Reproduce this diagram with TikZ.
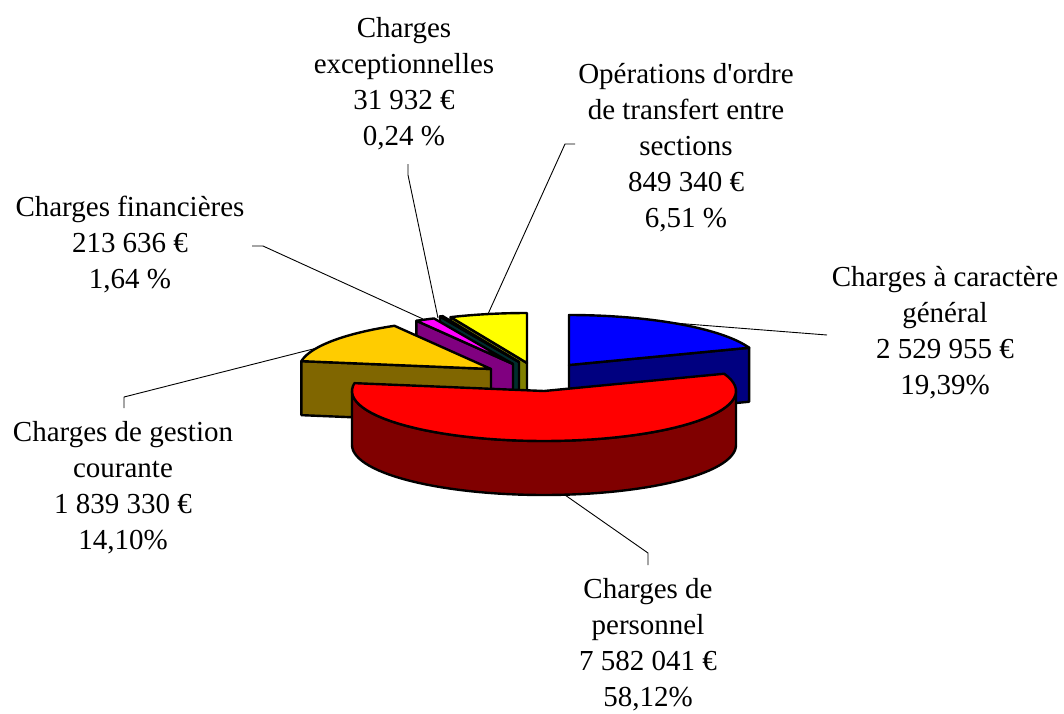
\documentclass[tikz,border=0pt]{standalone}
\usepackage{fontspec}
\setmainfont{Liberation Serif}
\usetikzlibrary{calc}

\definecolor{genTop}{RGB}{0,0,255}
\definecolor{genSide}{RGB}{0,0,128}
\definecolor{persTop}{RGB}{255,0,0}
\definecolor{persSide}{RGB}{128,0,0}
\definecolor{gestTop}{RGB}{255,204,0}
\definecolor{gestSide}{RGB}{128,102,0}
\definecolor{finTop}{RGB}{255,0,255}
\definecolor{finSide}{RGB}{128,0,128}
\definecolor{excTop}{RGB}{0,90,90}
\definecolor{excSide}{RGB}{0,45,45}
\definecolor{ordTop}{RGB}{255,255,0}
\definecolor{ordSide}{RGB}{128,128,0}

\newcommand*\pieRx{192}
\newcommand*\pieRy{50}
\newcommand*\pieH{54}
% top of a slice: apex x, apex y, start, end, colour
\newcommand*\slicetop[5]{\filldraw[fill=#5] (#1,#2) -- plot[domain=#3:#4,samples=60] ({#1+\pieRx*sin(\x)},{#2-\pieRy*cos(\x)}) -- cycle;}
% flat wall along one radius
\newcommand*\slicewall[4]{\filldraw[fill=#4] (#1,#2) -- ({#1+\pieRx*sin(#3)},{#2-\pieRy*cos(#3)}) -- ++(0,\pieH) -- ({#1},{#2+\pieH}) -- cycle;}
% curved front wall
\newcommand*\slicerim[5]{\filldraw[fill=#5] plot[domain=#3:#4,samples=60] ({#1+\pieRx*sin(\x)},{#2-\pieRy*cos(\x)}) -- plot[domain=#4:#3,samples=60] ({#1+\pieRx*sin(\x)},{#2+\pieH-\pieRy*cos(\x)}) -- cycle;}

\begin{document}
\begin{tikzpicture}[x=1pt,y=-1pt,
    line join=round,
    slice/.style={line width=2.4pt},
    leader/.style={line width=0.9pt},
    lbl/.style={align=center,anchor=base,inner sep=0pt,
      font=\fontsize{29}{36}\selectfont}]
        \useasboundingbox (0,0) rectangle (1064,713);

        % slices, back to front
        \begin{scope}[slice]
        \slicewall{527}{363}{336.57}{ordSide}
        \slicetop{527}{363}{336.57}{360}{ordTop}
        \slicewall{519}{362}{335.70}{excSide}
        \slicetop{519}{362}{335.70}{336.57}{excTop}
        \slicewall{513}{364}{329.80}{finSide}
        \slicetop{513}{364}{329.80}{335.70}{finTop}
        \slicewall{491}{369}{279.04}{gestSide}
        \slicetop{491}{369}{279.04}{329.80}{gestTop}
        \slicewall{569}{365}{69.80}{genSide}
        \slicetop{569}{365}{0}{69.80}{genTop}
        \slicerim{544}{391}{90}{270}{persSide}
        \slicetop{544}{391}{69.80}{279.04}{persTop}
        \end{scope}

        % labels, placed on the baseline of their last line
        \node[lbl] (Gen) at (945,394) {Charges à caractère\\général\\2 529 955 €\\19,39\%};
        \node[lbl] (Pers) at (648,706) {Charges de\\personnel\\7 582 041 €\\58,12\%};
        \node[lbl] (Gest) at (123,549) {Charges de gestion\\courante\\1 839 330 €\\14,10\%};
        \node[lbl] (Fin) at (130,288) {Charges financières\\213 636 €\\1,64 \%};
        \node[lbl] (Exc) at (404,145) {Charges\\exceptionnelles\\31 932 €\\0,24 \%};
        \node[lbl] (Ord) at (686,227) {Opérations d\textquotesingle ordre\\de transfert entre\\sections\\849 340 €\\6,51 \%};

        \coordinate (GenL) at (827,335);
        \coordinate (GenR) at (674,323);
        \coordinate (PersL) at (648,565);
        \coordinate (PersK) at (648,553);
        \coordinate (PersR) at (565,495);
        \coordinate (GestL) at (124,408);
        \coordinate (GestK) at (124,397);
        \coordinate (GestR) at (317,348);
        \coordinate (FinL) at (252,246);
        \coordinate (FinK) at (263,246);
        \coordinate (FinR) at (423,319);
        \coordinate (ExcL) at (408,164);
        \coordinate (ExcK) at (408,175);
        \coordinate (ExcR) at (438,318);
        \coordinate (OrdL) at (575,144);
        \coordinate (OrdK) at (565,144);
        \coordinate (OrdR) at (488,314);

        \draw[leader] (GenL) -- (GenR);
        \draw[leader] (PersL) -- (PersK) -- (PersR);
        \draw[leader] (GestL) -- (GestK) -- (GestR);
        \draw[leader] (FinL) -- (FinK) -- (FinR);
        \draw[leader] (ExcL) -- (ExcK) -- (ExcR);
        \draw[leader] (OrdL) -- (OrdK) -- (OrdR);
    \end{tikzpicture}
\end{document}
